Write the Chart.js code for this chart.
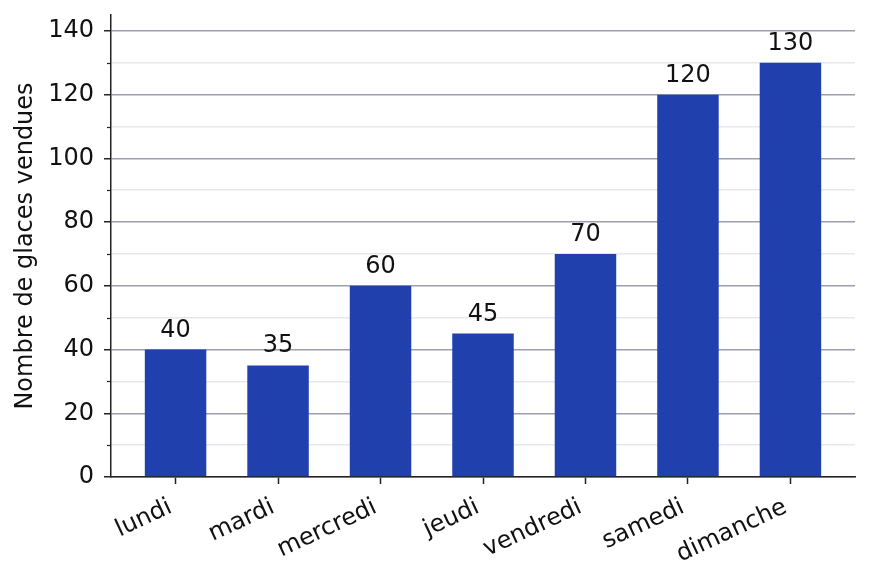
<!DOCTYPE html>
<html>
<head>
<meta charset="utf-8">
<script src="https://cdn.jsdelivr.net/npm/chart.js@4"></script>
<style>
  html, body { margin: 0; padding: 0; background: #fff; }
  #wrap { width: 869px; height: 581px; }
</style>
</head>
<body>
<div id="wrap"><canvas id="chart" width="869" height="581"></canvas></div>
<script>
// chart data
const categories = ['lundi', 'mardi', 'mercredi', 'jeudi', 'vendredi', 'samedi', 'dimanche'];
const sales = [40, 35, 60, 45, 70, 120, 130];
const yMax = 145;
const yStep = 10;      // minor step, labels every 20
const yLabelStep = 20;

const FONT = 'DejaVu Sans';
const TEXT = '#111';
const AXIS = '#222';

// draws the value above each bar and the short minor ticks on the y axis
const extras = {
  id: 'extras',
  afterDatasetsDraw(chart) {
    const ctx = chart.ctx;
    const meta = chart.getDatasetMeta(0);
    ctx.save();
    ctx.font = '24px "' + FONT + '"';
    ctx.fillStyle = TEXT;
    ctx.textAlign = 'center';
    ctx.textBaseline = 'alphabetic';
    meta.data.forEach((bar, i) => {
      ctx.fillText(String(sales[i]), bar.x, bar.y - 13);
    });
    ctx.restore();
  },
  afterDraw(chart) {
    const ctx = chart.ctx;
    const y = chart.scales.y;
    ctx.save();
    ctx.strokeStyle = AXIS;
    ctx.lineWidth = 1.2;
    y.ticks.forEach(t => {
      if (t.value % yLabelStep !== 0) {
        const py = Math.round(y.getPixelForValue(t.value)) + 0.5;
        ctx.beginPath();
        ctx.moveTo(y.right - 4, py);
        ctx.lineTo(y.right, py);
        ctx.stroke();
      }
    });
    ctx.restore();
  }
};

new Chart(document.getElementById('chart'), {
  type: 'bar',
  data: {
    datasets: [{
      data: categories.map((c, i) => ({ x: i, y: sales[i] })),
      backgroundColor: '#1f40ad',
      borderWidth: 0,
      barPercentage: 0.6,
      categoryPercentage: 1
    }]
  },
  options: {
    responsive: false,
    devicePixelRatio: 1,
    animation: false,
    layout: { padding: { left: 0, right: 14, top: 15, bottom: 0 } },
    plugins: {
      legend: { display: false },
      tooltip: { enabled: false }
    },
    scales: {
      x: {
        type: 'linear',
        min: -0.63,
        max: 6.63,
        offset: false,
        afterFit(scale) {
          scale.height = 104;
          scale.paddingLeft = 0;
          scale.paddingRight = 0;
        },
        afterBuildTicks(scale) {
          scale.ticks = categories.map((c, i) => ({ value: i }));
        },
        ticks: {
          callback: v => categories[v] ?? '',
          minRotation: 25,
          maxRotation: 25,
          autoSkip: false,
          padding: 9,
          labelOffset: -5,
          color: TEXT,
          font: { family: FONT, size: 24 }
        },
        grid: {
          offset: false,
          drawOnChartArea: false,
          tickLength: 7,
          tickColor: AXIS,
          tickWidth: 1.5
        },
        border: { color: AXIS, width: 1.5 }
      },
      y: {
        min: 0,
        max: yMax,
        afterFit(scale) {
          scale.width = 111;
          scale.paddingTop = 0;
          scale.paddingBottom = 0;
        },
        ticks: {
          stepSize: yStep,
          includeBounds: false,
          callback: v => (v % yLabelStep === 0 ? v : ''),
          padding: 10,
          color: TEXT,
          font: { family: FONT, size: 24 }
        },
        grid: {
          color: c => (c.tick && c.tick.value % yLabelStep === 0 ? '#9aa1ad' : '#e7e7ed'),
          lineWidth: 1.5,
          tickLength: 7,
          tickColor: c => (c.tick && c.tick.value % yLabelStep === 0 ? AXIS : 'rgba(0,0,0,0)'),
          tickWidth: 1.5
        },
        border: { color: AXIS, width: 1.5 },
        title: {
          display: true,
          text: 'Nombre de glaces vendues',
          color: TEXT,
          font: { family: FONT, size: 24 },
          padding: { top: 11, bottom: 0 }
        }
      }
    }
  },
  plugins: [extras]
});
</script>
</body>
</html>
